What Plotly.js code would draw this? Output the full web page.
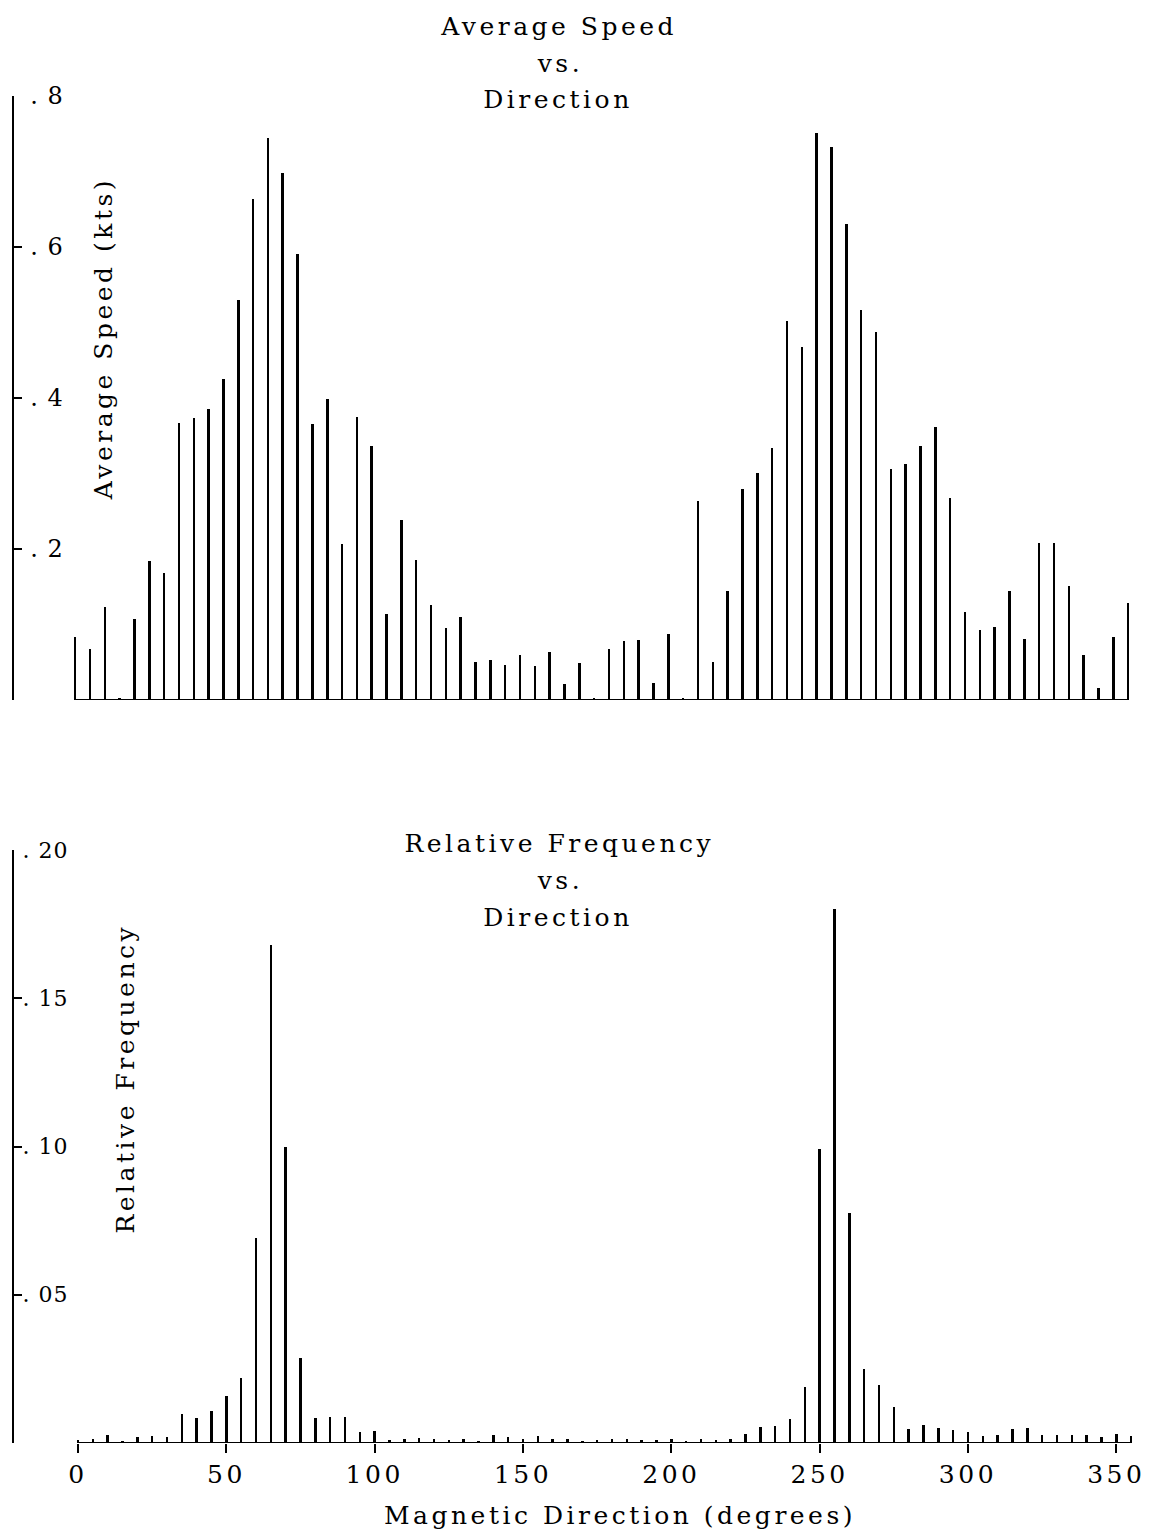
<!DOCTYPE html>
<html>
<head>
<meta charset="utf-8">
<script src="https://cdn.plot.ly/plotly-3.0.1.min.js"></script>
<style>
  html, body { margin: 0; padding: 0; background: #fff; }
  #chart { width: 1162px; height: 1534px; }
  .main-svg text { letter-spacing: 3.5px; }
  .main-svg g.ytick text, .main-svg g.y2tick text { letter-spacing: 1px; }
</style>
</head>
<body>
<div id="chart"></div>
<script>
// Magnetic direction (degrees), 5-degree bins
const directions = [0,5,10,15,20,25,30,35,40,45,50,55,60,65,70,75,80,85,90,95,
  100,105,110,115,120,125,130,135,140,145,150,155,160,165,170,175,
  180,185,190,195,200,205,210,215,220,225,230,235,240,245,250,255,260,265,270,275,
  280,285,290,295,300,305,310,315,320,325,330,335,340,345,350,355];

// Average speed (kts) per direction bin
const avgSpeed = [0.083,0.067,0.123,0.003,0.107,0.184,0.168,0.367,0.373,0.385,
  0.425,0.530,0.664,0.745,0.698,0.591,0.366,0.399,0.206,0.375,
  0.337,0.114,0.239,0.186,0.126,0.096,0.110,0.051,0.053,0.047,
  0.060,0.045,0.064,0.021,0.049,0.002,
  0.067,0.078,0.079,0.023,0.087,0.002,0.263,0.051,0.144,0.280,
  0.301,0.334,0.502,0.467,0.751,0.732,0.631,0.516,0.488,0.306,
  0.312,0.337,0.362,0.268,0.116,0.093,0.097,0.145,0.081,0.208,
  0.208,0.151,0.059,0.016,0.083,0.129];

// Relative frequency per direction bin
const relFreq = [0.0010,0.0013,0.0028,0.0008,0.0019,0.0024,0.0021,0.0098,0.0086,0.0109,
  0.0158,0.0220,0.0690,0.1680,0.1000,0.0286,0.0084,0.0087,0.0089,0.0038,
  0.0040,0.0011,0.0013,0.0017,0.0014,0.0009,0.0012,0.0007,0.0026,0.0019,
  0.0014,0.0024,0.0013,0.0013,0.0008,0.0009,
  0.0014,0.0013,0.0009,0.0011,0.0015,0.0008,0.0014,0.0011,0.0014,0.0031,
  0.0053,0.0056,0.0082,0.0190,0.0990,0.1800,0.0775,0.0248,0.0195,0.0122,
  0.0048,0.0062,0.0051,0.0044,0.0037,0.0022,0.0028,0.0046,0.0050,0.0026,
  0.0026,0.0026,0.0026,0.0020,0.0029,0.0025];

// Axis ticks
const speedTickVals = [0, 0.2, 0.4, 0.6, 0.8];
const speedTickText = ['', '. 2', '. 4', '. 6', '. 8'];
const freqTickVals = [0, 0.05, 0.10, 0.15, 0.20];
const freqTickText = ['', '. 05', '. 10', '. 15', '. 20'];
const dirTickVals = [0, 50, 100, 150, 200, 250, 300, 350];
const dirTickText = ['0', '50', '100', '150', '200', '250', '300', '350'];

const FONT = 'DejaVu Serif, serif';
const W = 1162, H = 1534;
const px = v => v / W;
const py = v => 1 - v / H;

const first = directions[0], last = directions[directions.length - 1];

const traces = [
  { type: 'bar', x: directions, y: avgSpeed, width: 0.85,
    marker: { color: '#000', line: { width: 0 } },
    xaxis: 'x', yaxis: 'y', hoverinfo: 'skip', showlegend: false },
  { type: 'scatter', mode: 'lines', x: [first, last], y: [0, 0],
    line: { color: '#000', width: 2 }, cliponaxis: false,
    xaxis: 'x', yaxis: 'y', hoverinfo: 'skip', showlegend: false },
  { type: 'bar', x: directions, y: relFreq, width: 0.85,
    marker: { color: '#000', line: { width: 0 } },
    xaxis: 'x2', yaxis: 'y2', hoverinfo: 'skip', showlegend: false },
  { type: 'scatter', mode: 'lines', x: [first, last], y: [0, 0],
    line: { color: '#000', width: 2 }, cliponaxis: false,
    xaxis: 'x2', yaxis: 'y2', hoverinfo: 'skip', showlegend: false }
];

const yCommon = {
  showgrid: false, zeroline: false, showline: true, linecolor: '#000', linewidth: 2,
  ticks: 'inside', ticklen: 8, tickwidth: 2, tickcolor: '#000',
  ticklabelposition: 'inside', ticklabeloverflow: 'allow', tickmode: 'array'
};

const ann = (text, x, y, extra) => Object.assign({
  text: text, x: px(x), y: py(y), xref: 'paper', yref: 'paper',
  xanchor: 'center', yanchor: 'middle', showarrow: false,
  font: { family: FONT, size: 25, color: '#000' }
}, extra || {});

const layout = {
  width: W, height: H,
  margin: { l: 0, r: 0, t: 0, b: 0 },
  paper_bgcolor: '#fff', plot_bgcolor: '#fff',
  bargap: 0,
  xaxis: {
    domain: [px(14), px(1132)], range: [-20.6, 356.3],
    showgrid: false, zeroline: false, showline: false, ticks: '', showticklabels: false
  },
  yaxis: Object.assign({}, yCommon, {
    domain: [py(700), py(96)], range: [0, 0.8],
    tickvals: speedTickVals, ticktext: speedTickText, ticklabelstandoff: 10,
    tickfont: { family: FONT, size: 24, color: '#000' }
  }),
  xaxis2: {
    domain: [px(14), px(1132)], range: [-21.6, 355.3], anchor: 'y2',
    showgrid: false, zeroline: false, showline: false,
    ticks: 'outside', ticklen: 9, tickwidth: 2, tickcolor: '#000',
    tickmode: 'array', tickvals: dirTickVals, ticktext: dirTickText,
    tickfont: { family: FONT, size: 25, color: '#000' }
  },
  yaxis2: Object.assign({}, yCommon, {
    domain: [py(1443), py(850)], range: [0, 0.2], anchor: 'x2',
    tickvals: freqTickVals, ticktext: freqTickText, ticklabelstandoff: 2,
    tickfont: { family: FONT, size: 22, color: '#000' }
  }),
  annotations: [
    ann('Average Speed', 558, 27),
    ann('vs.', 560, 63),
    ann('Direction', 558, 100),
    ann('Relative Frequency', 560, 843),
    ann('vs.', 560, 880),
    ann('Direction', 558, 917),
    ann('Average Speed (kts)', 103, 339, { textangle: -90 }),
    ann('Relative Frequency', 125, 1078, { textangle: -90 }),
    ann('Magnetic Direction (degrees)', 620, 1515)
  ]
};

Plotly.newPlot('chart', traces, layout, { staticPlot: true, displayModeBar: false });
</script>
</body>
</html>
